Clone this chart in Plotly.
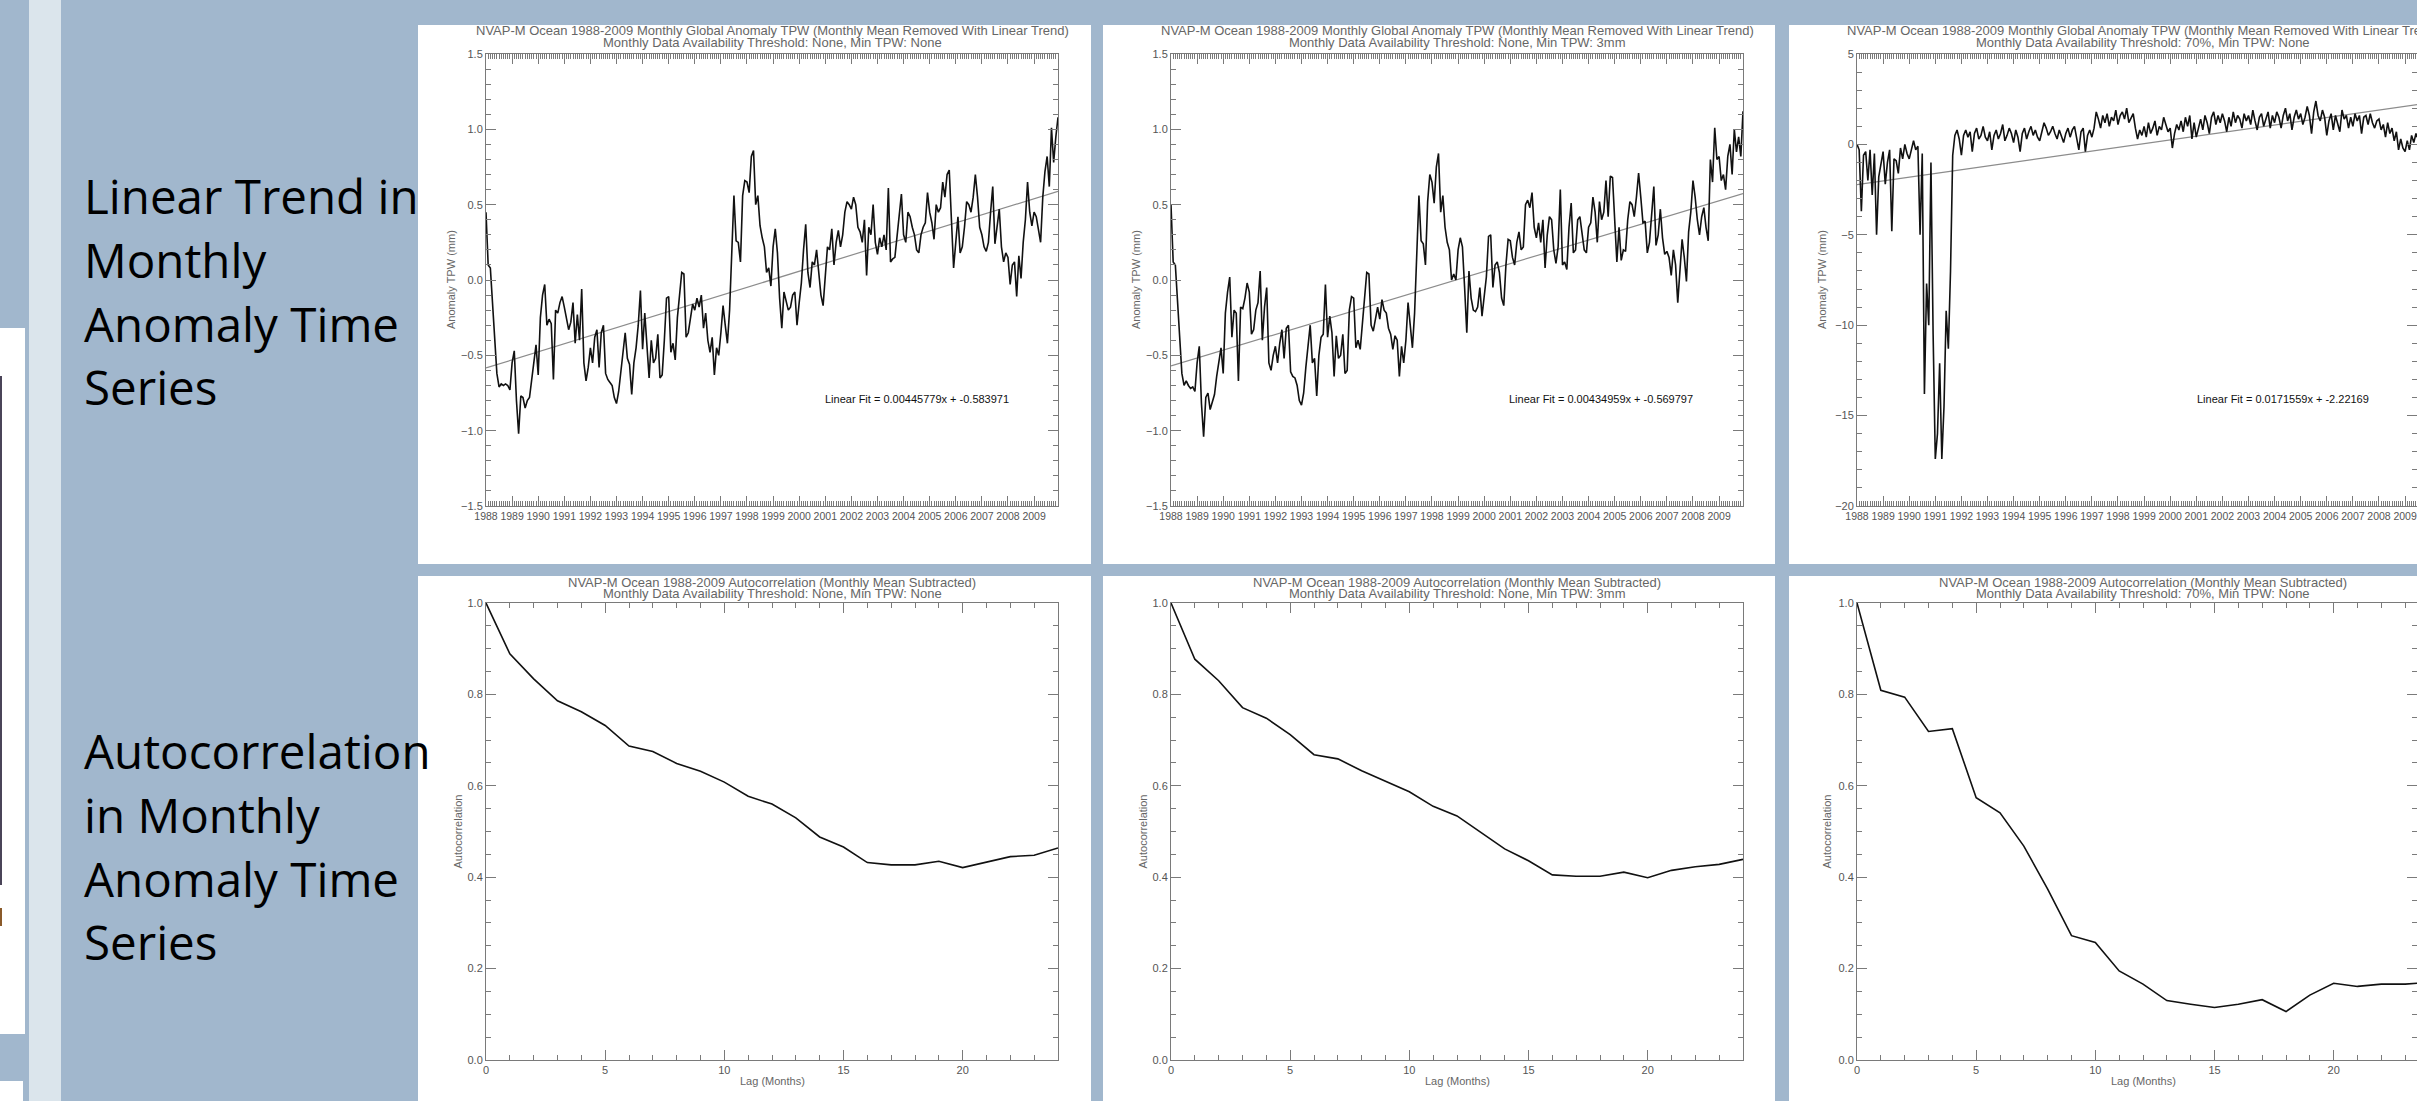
import plotly.graph_objects as go

W, H = 2417, 1101

# ---------------- data ----------------
START_YEAR = 1988
years_labels = list(range(1988, 2010))

# Panel 1: Threshold None, Min TPW None (mm), monthly 1988-01 .. 2009-12
tpw_none_none = [
    0.45, 0.10, 0.08, -0.15, -0.40, -0.62, -0.71, -0.69, -0.70, -0.69, -0.70, -0.73,
    -0.55, -0.47, -0.80, -1.02, -0.77, -0.78, -0.85, -0.80, -0.78, -0.65, -0.55, -0.43,
    -0.63, -0.25, -0.10, -0.03, -0.30, -0.26, -0.29, -0.66, -0.20, -0.22, -0.15, -0.11,
    -0.18, -0.25, -0.33, -0.28, -0.15, -0.42, -0.23, -0.40, -0.06, -0.55, -0.67, -0.58,
    -0.45, -0.55, -0.38, -0.33, -0.58, -0.35, -0.30, -0.62, -0.66, -0.68, -0.70, -0.78,
    -0.82, -0.74, -0.60, -0.48, -0.35, -0.52, -0.56, -0.76, -0.55, -0.45, -0.30, -0.07,
    -0.46, -0.22, -0.43, -0.65, -0.40, -0.55, -0.52, -0.36, -0.65, -0.63, -0.40, -0.12,
    -0.11, -0.48, -0.42, -0.53, -0.25, -0.12, 0.05, 0.04, -0.38, -0.35, -0.25, -0.16,
    -0.20, -0.12, -0.18, -0.10, -0.32, -0.22, -0.40, -0.48, -0.38, -0.63, -0.45, -0.50,
    -0.35, -0.17, -0.30, -0.42, -0.20, 0.15, 0.56, 0.26, 0.25, 0.12, 0.56, 0.66,
    0.65, 0.58, 0.82, 0.86, 0.50, 0.56, 0.36, 0.28, 0.22, 0.05, 0.08, -0.04,
    0.22, 0.34, 0.18, -0.12, -0.32, -0.08, -0.15, -0.20, -0.18, -0.10, -0.08, -0.30,
    -0.15, -0.02, 0.20, 0.37, 0.05, -0.05, 0.12, 0.10, 0.20, 0.05, -0.10, -0.17,
    0.05, 0.22, 0.20, 0.34, 0.10, 0.25, 0.33, 0.22, 0.30, 0.45, 0.52, 0.50,
    0.47, 0.55, 0.50, 0.35, 0.32, 0.25, 0.40, 0.03, 0.35, 0.30, 0.50, 0.25,
    0.17, 0.28, 0.22, 0.30, 0.20, 0.61, 0.12, 0.14, 0.15, 0.30, 0.47, 0.57,
    0.30, 0.25, 0.45, 0.42, 0.35, 0.30, 0.20, 0.18, 0.30, 0.35, 0.38, 0.58,
    0.45, 0.38, 0.27, 0.50, 0.45, 0.48, 0.65, 0.55, 0.70, 0.73, 0.40, 0.08,
    0.25, 0.42, 0.18, 0.22, 0.35, 0.52, 0.50, 0.45, 0.55, 0.70, 0.55, 0.35,
    0.30, 0.22, 0.19, 0.25, 0.45, 0.62, 0.24, 0.35, 0.47, 0.22, 0.12, 0.18,
    0.15, -0.03, 0.10, 0.12, -0.11, 0.16, 0.01, 0.25, 0.40, 0.65, 0.45, 0.36,
    0.45, 0.42, 0.32, 0.25, 0.55, 0.72, 0.82, 0.62, 1.01, 0.78, 0.95, 1.08,
]

# Panel 2: Threshold None, Min TPW 3mm
tpw_none_3mm = [
    0.50, 0.12, 0.10, -0.12, -0.40, -0.62, -0.70, -0.67, -0.70, -0.72, -0.71, -0.74,
    -0.55, -0.44, -0.82, -1.04, -0.78, -0.75, -0.86, -0.80, -0.76, -0.64, -0.55, -0.45,
    -0.62, -0.22, -0.08, 0.02, -0.38, -0.20, -0.22, -0.67, -0.18, -0.19, -0.12, -0.02,
    -0.08, -0.36, -0.33, -0.20, -0.15, 0.06, -0.40, -0.18, -0.05, -0.55, -0.60, -0.50,
    -0.44, -0.55, -0.42, -0.33, -0.52, -0.32, -0.30, -0.61, -0.64, -0.65, -0.70, -0.80,
    -0.83, -0.75, -0.58, -0.45, -0.30, -0.55, -0.52, -0.77, -0.50, -0.38, -0.36, -0.03,
    -0.38, -0.24, -0.35, -0.64, -0.37, -0.52, -0.50, -0.36, -0.62, -0.60, -0.20, -0.11,
    -0.12, -0.45, -0.40, -0.46, -0.28, -0.12, 0.05, 0.04, -0.30, -0.34, -0.26, -0.18,
    -0.26, -0.13, -0.20, -0.22, -0.32, -0.36, -0.46, -0.37, -0.40, -0.64, -0.44, -0.55,
    -0.40, -0.15, -0.30, -0.45, -0.22, 0.20, 0.56, 0.26, 0.24, 0.10, 0.52, 0.70,
    0.65, 0.51, 0.75, 0.84, 0.45, 0.56, 0.35, 0.25, 0.20, 0.00, 0.04, 0.00,
    0.20, 0.28, 0.22, -0.05, -0.35, 0.06, -0.12, -0.20, -0.21, -0.18, -0.05, -0.24,
    -0.10, 0.02, 0.29, 0.30, -0.05, 0.10, 0.12, 0.05, -0.12, -0.17, 0.10, 0.27,
    0.26, 0.15, 0.10, 0.25, 0.32, 0.20, 0.22, 0.50, 0.53, 0.48, 0.58, 0.35,
    0.28, 0.38, 0.25, 0.40, 0.08, 0.30, 0.42, 0.40, 0.20, 0.11, 0.22, 0.60,
    0.10, 0.12, 0.07, 0.35, 0.51, 0.18, 0.20, 0.40, 0.42, 0.30, 0.20, 0.18,
    0.35, 0.38, 0.55, 0.45, 0.25, 0.52, 0.40, 0.45, 0.66, 0.42, 0.69, 0.68,
    0.40, 0.12, 0.35, 0.13, 0.20, 0.19, 0.40, 0.52, 0.50, 0.42, 0.55, 0.71,
    0.55, 0.38, 0.39, 0.18, 0.25, 0.45, 0.62, 0.23, 0.30, 0.47, 0.28, 0.17,
    0.19, 0.15, 0.03, 0.20, 0.10, -0.15, 0.05, 0.27, 0.15, -0.01, 0.32, 0.45,
    0.66, 0.55, 0.40, 0.30, 0.42, 0.48, 0.35, 0.26, 0.80, 0.65, 1.01, 0.80,
    0.82, 0.66, 0.70, 0.60, 0.82, 0.90, 0.70, 1.00, 0.85, 0.95, 0.82, 1.12,
]

# Panel 3: Threshold 70%, Min TPW None
tpw_70_none = [
    0.0, -0.3, -3.7, -0.6, -0.4, -2.0, -0.3, -2.8, -0.5, -5.0, -1.8, -1.0,
    -0.4, -2.2, -1.0, -0.3, -4.8, -0.8, -0.9, -1.6, -0.2, -0.8, 0.0, -0.5,
    -0.8, -0.3, 0.2, -0.3, -0.1, -5.0, -0.5, -13.8, -7.7, -10.0, -1.0, -10.5,
    -17.4, -16.0, -12.1, -17.4, -14.5, -9.2, -11.3, -7.0, -0.6, 0.5, 0.8, 0.3,
    -0.6, 0.5, 0.8, 0.4, 0.7, -0.4, 0.6, 0.9, 0.3, 0.5, 1.0, 0.4,
    0.2, 0.7, -0.3, 0.5, 0.8, 0.3, 0.6, 1.1, 0.2, 0.5, 0.9, 0.6,
    0.1, 0.8, 0.4, -0.4, 0.6, 0.9, 0.3, 0.7, 1.0, 0.5, 0.8, 0.4,
    0.2, 0.7, 1.2, 0.9, 0.5, 0.7, 1.0, 0.6, 0.3, 0.8, 0.5, 0.1,
    0.6, 0.9, 0.4, 0.8, 1.0, 0.3, -0.3, 0.7, 0.9, -0.4, 0.5, 0.8,
    0.4, 0.9, 1.8, 1.4, 0.9, 1.6, 1.2, 1.7, 1.0, 1.5, 1.3, 1.9,
    1.1, 1.6, 1.8, 1.4, 2.0, 1.2, 1.5, 1.7, 0.9, 0.3, 0.8, 0.5,
    1.0, 0.4, 1.2, 0.6, 0.9, 1.3, 0.5, 1.0, 0.8, 1.5, 1.1, 0.7,
    0.9, -0.2, 0.6, 1.1, 0.8, 1.3, 0.7, 1.5, 1.0, 1.6, 0.3, 1.2,
    0.4, 1.0, 1.4, 0.8, 1.6, 1.2, 0.6, 1.5, 1.8, 1.1, 1.6, 1.2,
    1.7, 1.3, 0.7, 1.5, 1.0, 1.8, 1.2, 1.6, 1.4, 0.9, 1.7, 1.3,
    1.6, 1.1, 1.9, 1.3, 0.8, 1.5, 1.7, 1.0, 1.4, 1.8, 0.9, 1.6,
    1.2, 1.8, 1.5, 0.9, 1.6, 2.0, 1.3, 1.7, 0.8, 1.5, 1.9, 1.4,
    1.7, 1.1, 1.5, 2.1, 1.6, 0.6, 1.8, 2.4, 1.6, 1.3, 1.9, 1.5,
    0.5, 1.3, 1.7, 0.8, 1.6, 1.2, 0.7, 1.9, 1.4, 1.6, 0.9, 1.5,
    1.0, 1.7, 1.3, 1.6, 0.6, 1.5, 1.6, 1.1, 1.7, 1.2, 0.9, 1.3,
    1.4, 0.8, 1.1, 0.4, 1.2, 0.6, 0.9, 0.2, 0.7, -0.3, 0.3, -0.2,
    -0.4, 0.2, -0.3, 0.5, 0.1, 0.6, 0.3, 0.8, 0.4, 1.0, 0.7, 1.2,
]

# Linear fits printed on the charts (slope per month, intercept)
fit_none_none = (0.00445779, -0.583971)
fit_none_3mm = (0.00434959, -0.569797)
fit_70_none = (0.0171559, -2.22169)

# Autocorrelation, lags 0..24 months
lags = list(range(25))
acf_none_none = [1.000, 0.889, 0.834, 0.786, 0.762, 0.732, 0.687, 0.675, 0.649, 0.632,
                 0.608, 0.577, 0.560, 0.530, 0.488, 0.466, 0.432, 0.427, 0.427, 0.435,
                 0.421, 0.433, 0.445, 0.448, 0.464]
acf_none_3mm = [1.000, 0.877, 0.830, 0.771, 0.748, 0.712, 0.668, 0.659, 0.633, 0.610,
                0.587, 0.555, 0.534, 0.498, 0.462, 0.436, 0.405, 0.402, 0.402, 0.411,
                0.399, 0.415, 0.423, 0.428, 0.439]
acf_70_none = [1.000, 0.809, 0.794, 0.719, 0.725, 0.574, 0.541, 0.468, 0.374, 0.272,
               0.257, 0.195, 0.166, 0.130, 0.122, 0.115, 0.122, 0.132, 0.106, 0.142,
               0.168, 0.161, 0.166, 0.166, 0.170]

title_ts = "NVAP-M Ocean 1988-2009 Monthly Global Anomaly TPW (Monthly Mean Removed With Linear Trend)"
title_ac = "NVAP-M Ocean 1988-2009 Autocorrelation (Monthly Mean Subtracted)"
subtitles = ["Monthly Data Availability Threshold: None, Min TPW: None",
             "Monthly Data Availability Threshold: None, Min TPW: 3mm",
             "Monthly Data Availability Threshold: 70%, Min TPW: None"]
fit_labels = ["Linear Fit = 0.00445779x + -0.583971",
              "Linear Fit = 0.00434959x + -0.569797",
              "Linear Fit = 0.0171559x + -2.22169"]
side_top = ["Linear Trend in", "Monthly", "Anomaly Time", "Series"]
side_bot = ["Autocorrelation", "in Monthly", "Anomaly Time", "Series"]

# ---------------- styling / geometry ----------------
BG = "#a1b7cd"
LIGHT = "#dbe5ec"
AXC = "#7a7a7a"
TXC = "#555555"
TFONT = "Liberation Sans"


def fx(p):
    return p / W


def fy(p):
    return 1 - p / H


panels_x = [(418, 1091), (1103, 1775), (1789, 2417)]
plots_x = [(486, 1058), (1171, 1743), (1857, 2429)]
top_panel_y = (25, 564)
bot_panel_y = (576, 1101)
top_plot_y = (54, 506)
bot_plot_y = (603, 1060)

fig = go.Figure()
layout = dict(
    width=W, height=H, autosize=False,
    margin=dict(l=0, r=0, t=0, b=0, pad=0, autoexpand=False),
    paper_bgcolor=BG, plot_bgcolor="white", showlegend=False,
    shapes=[], annotations=[],
)

# background decorations
shapes = layout["shapes"]
shapes.append(dict(type="rect", xref="paper", yref="paper", x0=fx(29), x1=fx(61), y0=0, y1=1,
                   fillcolor=LIGHT, line_width=0, layer="below"))
shapes.append(dict(type="rect", xref="paper", yref="paper", x0=0, x1=fx(25), y0=fy(1034), y1=fy(328),
                   fillcolor="white", line_width=0, layer="below"))
shapes.append(dict(type="rect", xref="paper", yref="paper", x0=0, x1=fx(23), y0=0, y1=fy(1081),
                   fillcolor="white", line_width=0, layer="below"))
shapes.append(dict(type="rect", xref="paper", yref="paper", x0=0, x1=fx(2), y0=fy(885), y1=fy(376),
                   fillcolor="#4a4458", line_width=0, layer="below"))
shapes.append(dict(type="rect", xref="paper", yref="paper", x0=0, x1=fx(2), y0=fy(926), y1=fy(908),
                   fillcolor="#8a5a2a", line_width=0, layer="below"))
for (a, b) in panels_x:
    for (c, d) in (top_panel_y, bot_panel_y):
        shapes.append(dict(type="rect", xref="paper", yref="paper", x0=fx(a), x1=fx(b),
                           y0=fy(d), y1=fy(c), fillcolor="white", line_width=0, layer="below"))


def axis_common():
    return dict(showline=True, linecolor=AXC, linewidth=1, mirror="allticks",
                ticks="inside", ticklen=10, tickcolor=AXC, tickwidth=1,
                tickfont=dict(family=TFONT, size=11, color=TXC), tickangle=0,
                showgrid=False, zeroline=False, fixedrange=True, automargin=False)


anns = layout["annotations"]
ts_series = [tpw_none_none, tpw_none_3mm, tpw_70_none]
fits = [fit_none_none, fit_none_3mm, fit_70_none]
acfs = [acf_none_none, acf_none_3mm, acf_70_none]
ts_yranges = [(-1.5, 1.5), (-1.5, 1.5), (-20, 5)]
ts_ydticks = [(0.5, 0.1), (0.5, 0.1), (5, 1)]
fit_pos = [(917, 399), (1601, 399), (2283, 399)]
ytitle_top_x = [451, 1136, 1822]
ytitle_bot_x = [457, 1142, 1826]
n_months = len(tpw_none_none)
months = list(range(n_months))
xyears = [START_YEAR + m / 12 for m in months]
full_end = START_YEAR + (n_months - 1) / 12

for i in range(3):
    px0, px1 = plots_x[i]
    vis1 = min(px1, W)
    frac = (vis1 - px0) / (px1 - px0)
    # ---- top row: time series
    k = i + 1
    xa = "xaxis" if k == 1 else f"xaxis{k}"
    ya = "yaxis" if k == 1 else f"yaxis{k}"
    xr = "x" if k == 1 else f"x{k}"
    yr = "y" if k == 1 else f"y{k}"
    ax = axis_common()
    ax.update(domain=[fx(px0), fx(vis1)], anchor=yr,
              range=[START_YEAR, START_YEAR + (full_end - START_YEAR) * frac],
              tickmode="array", tickvals=years_labels, ticktext=[str(y) for y in years_labels],
              tickfont=dict(family=TFONT, size=10.5, color=TXC),
              minor=dict(ticks="inside", ticklen=5, tickcolor=AXC, dtick=1 / 12, tick0=START_YEAR,
                         showgrid=False))
    ay = axis_common()
    ylo, yhi = ts_yranges[i]
    dmaj, dmin = ts_ydticks[i]
    ay.update(domain=[fy(top_plot_y[1]), fy(top_plot_y[0])], anchor=xr,
              range=[ylo, yhi], tick0=ylo, dtick=dmaj,
              tickformat=".1f" if dmaj < 1 else "d",
              minor=dict(ticks="inside", ticklen=5, tickcolor=AXC, dtick=dmin, tick0=ylo,
                         showgrid=False))
    layout[xa] = ax
    layout[ya] = ay
    slope, icpt = fits[i]
    fig.add_trace(go.Scatter(x=[xyears[0], xyears[-1]],
                             y=[slope * months[0] + icpt, slope * months[-1] + icpt],
                             mode="lines", line=dict(color="#8c8c8c", width=1.2),
                             xaxis=xr, yaxis=yr, cliponaxis=True))
    fig.add_trace(go.Scatter(x=xyears, y=ts_series[i], mode="lines",
                             line=dict(color="#111111", width=1.6),
                             xaxis=xr, yaxis=yr))
    cx = (px0 + px1) / 2
    anns.append(dict(xref="paper", yref="paper", x=fx(cx), y=fy(31), text=title_ts,
                     showarrow=False, xanchor="center", yanchor="middle",
                     font=dict(family=TFONT, size=13, color="#666")))
    anns.append(dict(xref="paper", yref="paper", x=fx(cx), y=fy(42), text=subtitles[i],
                     showarrow=False, xanchor="center", yanchor="middle",
                     font=dict(family=TFONT, size=13, color="#666")))
    anns.append(dict(xref="paper", yref="paper", x=fx(fit_pos[i][0]), y=fy(fit_pos[i][1]),
                     text=fit_labels[i], showarrow=False, xanchor="center", yanchor="middle",
                     font=dict(family=TFONT, size=11, color="#111")))
    anns.append(dict(xref="paper", yref="paper", x=fx(ytitle_top_x[i]),
                     y=fy((top_plot_y[0] + top_plot_y[1]) / 2), text="Anomaly TPW (mm)",
                     textangle=-90, showarrow=False, xanchor="center", yanchor="middle",
                     font=dict(family=TFONT, size=11, color="#666")))

    # ---- bottom row: autocorrelation
    k = i + 4
    xa, ya, xr, yr = f"xaxis{k}", f"yaxis{k}", f"x{k}", f"y{k}"
    ax = axis_common()
    ax.update(domain=[fx(px0), fx(vis1)], anchor=yr,
              range=[0, (len(lags) - 1) * frac], tick0=0, dtick=5,
              minor=dict(ticks="inside", ticklen=5, tickcolor=AXC, dtick=1, tick0=0, showgrid=False))
    ay = axis_common()
    ay.update(domain=[fy(bot_plot_y[1]), fy(bot_plot_y[0])], anchor=xr,
              range=[0, 1.0], tick0=0, dtick=0.2, tickformat=".1f",
              minor=dict(ticks="inside", ticklen=5, tickcolor=AXC, dtick=0.05, tick0=0,
                         showgrid=False))
    layout[xa] = ax
    layout[ya] = ay
    fig.add_trace(go.Scatter(x=lags, y=acfs[i], mode="lines",
                             line=dict(color="#111111", width=1.6), xaxis=xr, yaxis=yr))
    anns.append(dict(xref="paper", yref="paper", x=fx(cx), y=fy(582), text=title_ac,
                     showarrow=False, xanchor="center", yanchor="middle",
                     font=dict(family=TFONT, size=13, color="#666")))
    anns.append(dict(xref="paper", yref="paper", x=fx(cx), y=fy(593), text=subtitles[i],
                     showarrow=False, xanchor="center", yanchor="middle",
                     font=dict(family=TFONT, size=13, color="#666")))
    anns.append(dict(xref="paper", yref="paper", x=fx(ytitle_bot_x[i]),
                     y=fy((bot_plot_y[0] + bot_plot_y[1]) / 2), text="Autocorrelation",
                     textangle=-90, showarrow=False, xanchor="center", yanchor="middle",
                     font=dict(family=TFONT, size=11, color="#666")))
    anns.append(dict(xref="paper", yref="paper", x=fx(cx), y=fy(1081), text="Lag (Months)",
                     showarrow=False, xanchor="center", yanchor="middle",
                     font=dict(family=TFONT, size=11, color="#666")))

# side captions
for lines, centers in ((side_top, [196, 259, 323, 387]), (side_bot, [750, 814, 878, 941])):
    for t, c in zip(lines, centers):
        anns.append(dict(xref="paper", yref="paper", x=fx(82), y=fy(c), text=t,
                         showarrow=False, xanchor="left", yanchor="middle",
                         font=dict(family="Open Sans", size=47.5, color="black")))

fig.update_layout(**layout)
fig.write_html("out.html", config={"displayModeBar": False},
               post_script="document.body.style.margin='0';document.body.style.overflow='hidden';")
